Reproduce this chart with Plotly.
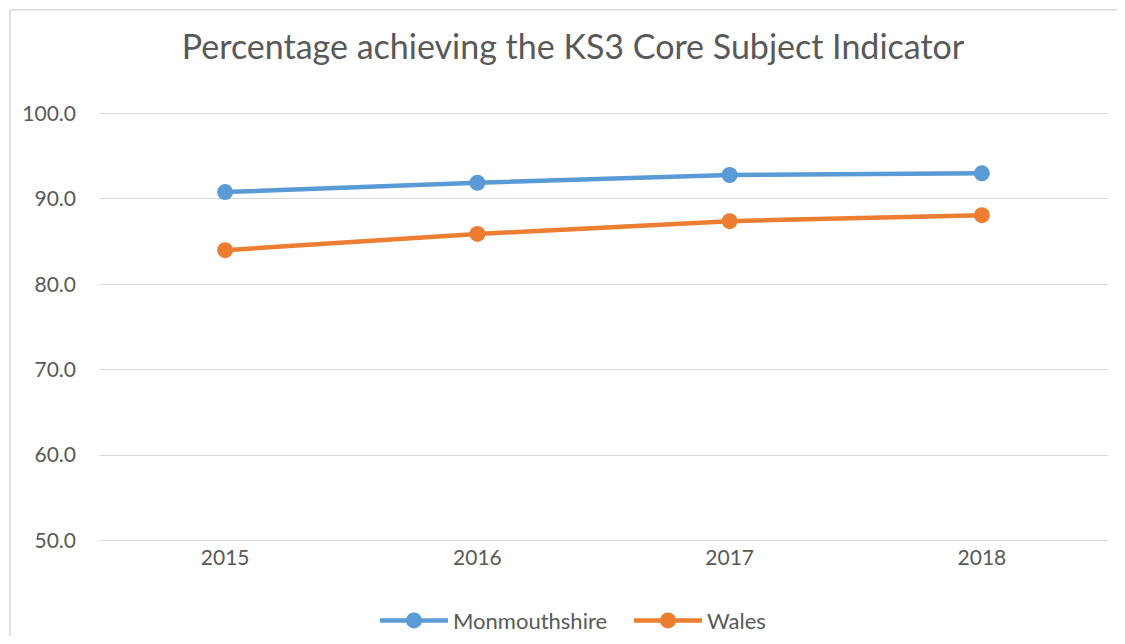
import plotly.graph_objects as go

years = ["2015", "2016", "2017", "2018"]
monmouthshire = [90.8, 91.9, 92.8, 93.0]
wales = [84.0, 85.9, 87.4, 88.1]
y_ticks = [50, 60, 70, 80, 90, 100]
y_tick_labels = ["50.0", "60.0", "70.0", "80.0", "90.0", "100.0"]

TEXT = "#595959"
FONT = "Lato, 'Open Sans', sans-serif"

fig = go.Figure()
fig.add_trace(go.Scatter(x=years, y=monmouthshire, name="Monmouthshire", mode="lines+markers",
                         line=dict(color="#5B9BD5", width=4.5),
                         marker=dict(size=16, color="#5B9BD5")))
fig.add_trace(go.Scatter(x=years, y=wales, name="Wales", mode="lines+markers",
                         line=dict(color="#ED7D31", width=4.5),
                         marker=dict(size=16, color="#ED7D31")))

# page body has an 8px margin; figure sized to fit inside the viewport
OFF = 8
W, H = 1125 - 2 * OFF, 644 - 2 * OFF
PXU = 426 / 50.0          # pixels per y unit
PADU = 0.3                # range padding so edge gridlines are drawn
PADPX = PADU * PXU
L = 99 - OFF
T = 114 - OFF - PADPX
R = W - (1108 - OFF)
B = H - (540 - OFF) - PADPX
pw, ph = W - L - R, H - T - B
y_bottom_px = 540 + PADPX   # viewport pixel of paper y=0


def py(v):  # viewport pixel -> paper y
    return (y_bottom_px - v) / ph


def px(v):  # viewport pixel -> paper x
    return (v - 99) / pw


fig.update_layout(
    width=W, height=H,
    margin=dict(l=L, r=R, t=T, b=B, autoexpand=False),
    paper_bgcolor="white", plot_bgcolor="white",
    font=dict(family=FONT, color=TEXT, size=21),
    title=dict(text="Percentage achieving the KS3 Core Subject Indicator",
               x=(573 - OFF) / W, xanchor="center", y=1 - (47 - OFF) / H, yanchor="middle",
               font=dict(size=34, color=TEXT, family=FONT)),
    xaxis=dict(type="category", range=[-0.5, 3.5], showgrid=False, showline=False,
               ticks="", tickfont=dict(size=21, color=TEXT), zeroline=False),
    yaxis=dict(range=[50 - PADU, 100 + PADU], tickvals=y_ticks, ticktext=y_tick_labels,
               showgrid=True, gridcolor="#D9D9D9", gridwidth=1.3, zeroline=False,
               showline=False, ticks="", ticklabelstandoff=22,
               tickfont=dict(size=21, color=TEXT)),
    legend=dict(orientation="h", x=px(629), xanchor="center", y=py(620),
                yanchor="middle", itemwidth=68, font=dict(size=22, color=TEXT),
                entrywidth=171, entrywidthmode="pixels",
                bgcolor="rgba(0,0,0,0)"),
    showlegend=True,
    shapes=[
        dict(type="line", xref="paper", yref="paper",
             x0=px(10), x1=px(1160), y0=py(10.5), y1=py(10.5),
             line=dict(color="#D9D9D9", width=1.5), layer="below"),
        dict(type="line", xref="paper", yref="paper",
             x0=px(10), x1=px(10), y0=py(10.5), y1=py(700),
             line=dict(color="#D9D9D9", width=1.5), layer="below"),
    ],
)

fig.write_html("out.html")
